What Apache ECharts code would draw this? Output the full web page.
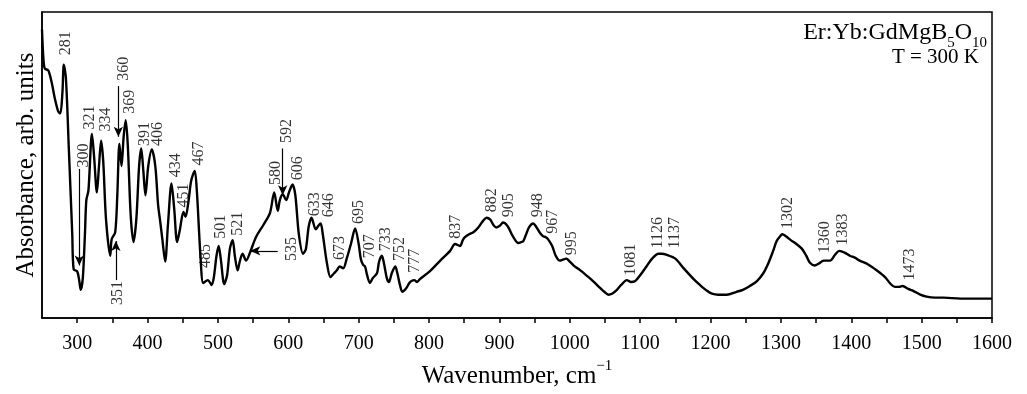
<!DOCTYPE html>
<html>
<head>
<meta charset="utf-8">
<script src="https://cdn.jsdelivr.net/npm/echarts@6/dist/echarts.min.js"></script>
<style>
  html, body { margin: 0; padding: 0; background: #fff; }
  #box { width: 1027px; height: 394px; }
</style>
</head>
<body>
<div id="box"></div>
<script>
// wavenumber (cm-1) and absorbance (arb. units)
var wavenumber = [
  250,252,254,259,264,268,273,276,279,281,
  284,288,293,295,300,303,305,308,311,313,
  316,321,324,328,331,334,337,341,347,349,
  354,357,360,363,366,369,372,376,380,384,
  388,391,394,397,401,406,411,415,418,421,
  425,429,434,438,442,446,451,454,458,462,
  467,470,475,479,483,486,491,494,498,501,
  504,509,513,517,521,524,528,531,535,540,
  546,554,565,574,580,585,588,592,597,601,
  606,610,615,621,625,629,633,639,643,646,
  649,655,660,665,669,673,678,683,689,695,
  700,703,706,709,712,716,720,726,729,733,
  736,740,743,747,752,755,759,762,767,772,
  775,779,783,787,801,816,830,837,844,848,
  851,857,863,870,877,882,887,892,896,901,
  905,912,919,927,931,934,938,942,948,952,
  958,962,966,969,975,980,986,990,995,1000,
  1007,1015,1025,1033,1043,1049,1055,1060,1067,1073,
  1081,1087,1093,1100,1109,1117,1126,1131,1137,1150,
  1162,1176,1185,1195,1202,1211,1223,1237,1246,1256,
  1266,1275,1282,1289,1294,1299,1302,1307,1314,1322,
  1330,1336,1341,1348,1354,1358,1361,1370,1377,1383,
  1391,1398,1405,1412,1424,1436,1448,1456,1462,1468,
  1473,1481,1488,1498,1507,1519,1531,1555,1576,1600
];
var absorbance = [
  296,266,256,254,241,226,212,210,231,260,
  246,176,86,50,48,38,29,41,86,121,
  131,189,166,129,156,182,161,101,64,81,
  88,126,179,156,186,203,176,106,78,101,
  156,174,151,126,156,173,156,116,99,81,
  58,96,138,111,78,91,109,104,119,141,
  151,131,66,36,38,39,34,41,64,74,
  61,35,44,71,80,64,49,58,66,59,
  68,83,96,108,129,110,121,127,121,129,
  137,126,86,66,71,94,103,91,95,97,
  86,56,42,46,49,53,51,61,76,92,
  76,61,55,53,44,36,41,46,58,64,
  56,41,37,46,53,46,33,27,30,36,
  38,39,37,40,48,59,69,76,74,80,
  83,86,88,93,100,103,101,95,93,95,
  98,94,84,77,78,79,86,93,97,94,
  87,84,83,81,74,64,59,60,61,58,
  53,49,43,38,31,27,24,25,29,34,
  39,37,38,44,53,61,66,66,65,61,
  51,40,34,28,25,24,24,27,29,33,
  38,46,56,69,79,84,86,84,80,76,
  71,64,57,54,56,58,59,59,65,69,
  67,64,62,59,55,49,42,35,32,32,
  33,30,28,24,22,21,21,20,20,20
];

// peak labels: text, anchor wavenumber, anchor absorbance (text grows upward)
var peakText = ['281','300','321','334','351','360','369','391','406','434',
  '451','467','485','501','521','535','580','592','606','633',
  '646','673','695','707','733','752','777','837','882','905',
  '948','967','995','1081','1126','1137','1302','1360','1383','1473'];
var peakAtW = [284,310,319,341,358,366.5,376,397,415,441,
  452,473.5,483,505,529,605,582.5,598,614,638,
  658,673.5,700.5,716,739,759,780,839,890,914,
  955,976,1003,1088,1126,1150.5,1310.5,1362.7,1388.7,1483.5];
var peakAtA = [269,154,193,191,13,243,209,176,176,144,
  113,156,51,81,84,58,136,179,141,104,
  103,59,96,61,68,58,46,81,108,103,
  103,86,64,43,71,71,91,66,74,38];

// arrows: [from w, from a, to w, to a]
var arrows = [
  [303, 153, 303, 54],
  [355, 39, 355, 79],
  [358.5, 238, 358.5, 186],
  [592, 174, 592, 126],
  [585, 69, 546, 69]
];

var xTicks = [300,400,500,600,700,800,900,1000,1100,1200,1300,1400,1500,1600];

var chart = echarts.init(document.getElementById('box'));
var serif = 'Liberation Serif';

var lineData = wavenumber.map(function (w, i) { return [w, absorbance[i]]; });
var labelData = peakText.map(function (t, i) {
  return { name: t, value: [peakAtW[i], peakAtA[i]] };
});
var arrowData = arrows.map(function (a) {
  return [{ coord: [a[0], a[1]] }, { coord: [a[2], a[3]] }];
});

var option = {
  animation: false,
  backgroundColor: '#fff',
  title: [
    {
      text: '{a|Er:Yb:GdMgB}{s|5}{a|O}{s|10}',
      right: 35, top: 16,
      textStyle: {
        rich: {
          a: { fontFamily: serif, fontSize: 24, fontWeight: 'normal', color: '#000', lineHeight: 30, verticalAlign: 'top' },
          s: { fontFamily: serif, fontSize: 15, fontWeight: 'normal', color: '#000', lineHeight: 12, verticalAlign: 'bottom' }
        }
      }
    },
    {
      text: 'T = 300 K',
      right: 43, top: 42,
      textStyle: { fontFamily: serif, fontSize: 21, fontWeight: 'normal', color: '#000' }
    }
  ],
  grid: {
    left: 42, right: 35, top: 12, bottom: 68,
    show: true, borderColor: '#000', borderWidth: 1.5, backgroundColor: 'transparent'
  },
  xAxis: {
    type: 'value',
    min: 250, max: 1600, interval: 50,
    name: '{a|Wavenumber, cm}{b|\u22121}',
    nameLocation: 'middle', nameGap: 36,
    nameTextStyle: {
      rich: {
        a: { fontFamily: serif, fontSize: 25, color: '#000', lineHeight: 30, verticalAlign: 'bottom' },
        b: { fontFamily: serif, fontSize: 15, color: '#000', lineHeight: 14, verticalAlign: 'top' }
      }
    },
    axisLine: { show: true, lineStyle: { color: '#000', width: 1.5 } },
    axisTick: { show: true, inside: false, length: 5, lineStyle: { color: '#000', width: 1.5 } },
    axisLabel: {
      margin: 16, fontFamily: serif, fontSize: 20, color: '#000',
      showMaxLabel: true, showMinLabel: false,
      formatter: function (v) { return xTicks.indexOf(v) >= 0 ? String(v) : ''; }
    },
    splitLine: { show: false }
  },
  yAxis: {
    type: 'value',
    min: 0, max: 314,
    name: 'Absorbance, arb. units',
    nameLocation: 'middle', nameGap: 3,
    nameTextStyle: { fontFamily: serif, fontSize: 25, color: '#000' },
    axisLine: { show: true, lineStyle: { color: '#000', width: 1.5 } },
    axisTick: { show: false },
    axisLabel: { show: false },
    splitLine: { show: false }
  },
  series: [
    {
      type: 'line',
      data: lineData,
      showSymbol: false,
      smooth: 0.3,
      lineStyle: { color: '#000', width: 2.4 },
      silent: true
    },
    {
      type: 'scatter',
      data: labelData,
      symbolSize: 1,
      itemStyle: { color: 'transparent' },
      silent: true,
      label: {
        show: true,
        formatter: '{b}',
        position: [0, 0],
        align: 'left',
        verticalAlign: 'middle',
        rotate: 90,
        fontFamily: serif,
        fontSize: 16,
        color: '#000'
      },
      markLine: {
        silent: true,
        symbol: ['none', 'arrow'],
        symbolSize: [7, 10],
        label: { show: false },
        lineStyle: { color: '#000', width: 1.2, type: 'solid' },
        data: arrowData
      }
    }
  ]
};
chart.setOption(option);
</script>
</body>
</html>
